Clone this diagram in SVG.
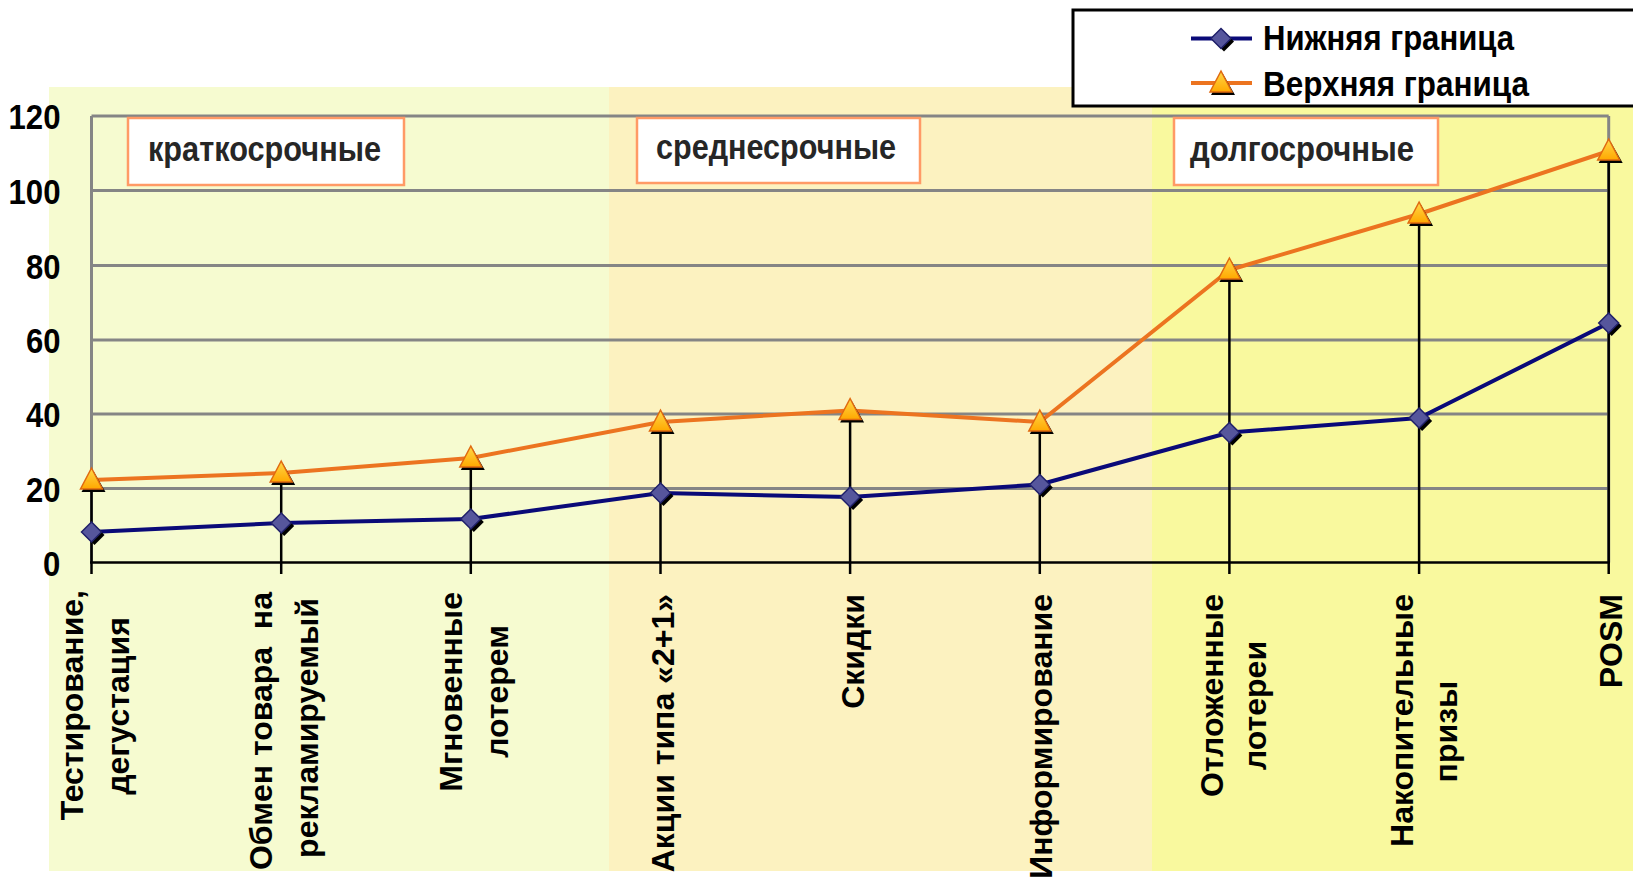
<svg xmlns="http://www.w3.org/2000/svg" width="1633" height="877" viewBox="0 0 1633 877">
<style>
.grid{stroke:#858585;stroke-width:3;fill:none}
.drop{stroke:#000;stroke-width:2.5;fill:none}
.ylab{font-family:"Liberation Sans",Arial,sans-serif;font-weight:bold;font-size:35px;fill:#000}
.cat{font-family:"Liberation Sans",Arial,sans-serif;font-weight:bold;font-size:32px;fill:#000}
.reg{font-family:"Liberation Sans",Arial,sans-serif;font-weight:bold;font-size:35px;fill:#262626}
.regbox{fill:#fff;stroke:#FF9A66;stroke-width:2.5}
.leg{font-family:"Liberation Sans",Arial,sans-serif;font-weight:bold;font-size:35px;fill:#000}
.lo{stroke:#0A0A78;stroke-width:4;fill:none;stroke-linejoin:round}
.hi{stroke:#EC7420;stroke-width:4;fill:none;stroke-linejoin:round}
</style>
<defs>
<linearGradient id="tg" x1="0" y1="0" x2="0" y2="1">
<stop offset="0" stop-color="#FFD84A"/>
<stop offset="1" stop-color="#FFA800"/>
</linearGradient>
<g id="dia">
<path d="M3,-7 L13,3 L3,13 L-7,3 Z" fill="#000"/>
<path d="M0,-10 L10,0 L0,10 L-10,0 Z" fill="#56569C" stroke="#20206A" stroke-width="1.5"/>
</g>
<g id="tri">
<path d="M2,-9 L14,12 L-10,12 Z" fill="#000"/>
<path d="M0,-12 L11,9 L-11,9 Z" fill="url(#tg)" stroke="#E06A10" stroke-width="1.5"/>
</g>
</defs>
<rect width="1633" height="877" fill="#fff"/>
<g id="bands">
<rect x="49" y="87" width="560" height="784" fill="#F6FBD0"/>
<rect x="609" y="87" width="543" height="784" fill="#FCF2C0"/>
<rect x="1152" y="87" width="481" height="784" fill="#F9F99E"/>
</g>
<g id="grid">
<line class="grid" x1="91.5" y1="116" x2="1608.7" y2="116"/>
<line class="grid" x1="91.5" y1="190.5" x2="1608.7" y2="190.5"/>
<line class="grid" x1="91.5" y1="265.5" x2="1608.7" y2="265.5"/>
<line class="grid" x1="91.5" y1="340" x2="1608.7" y2="340"/>
<line class="grid" x1="91.5" y1="414" x2="1608.7" y2="414"/>
<line class="grid" x1="91.5" y1="488.5" x2="1608.7" y2="488.5"/>
<line class="grid" x1="91.5" y1="116" x2="91.5" y2="562.5"/>
<line class="grid" x1="1608.7" y1="116" x2="1608.7" y2="562.5"/>
</g>
<g id="region-short">
<rect class="regbox" x="128" y="118" width="276" height="67"/>
<text class="reg" x="148" y="161" textLength="233" lengthAdjust="spacingAndGlyphs">краткосрочные</text>
</g>
<g id="region-mid">
<rect class="regbox" x="637" y="118" width="283" height="65"/>
<text class="reg" x="656" y="159" textLength="240" lengthAdjust="spacingAndGlyphs">среднесрочные</text>
</g>
<g id="region-long">
<rect class="regbox" x="1174" y="118" width="264" height="67"/>
<text class="reg" x="1190" y="161" textLength="224" lengthAdjust="spacingAndGlyphs">долгосрочные</text>
</g>
<g id="connectors">
<line class="drop" x1="91.5" y1="480" x2="91.5" y2="574"/>
<line class="drop" x1="281.2" y1="473" x2="281.2" y2="574"/>
<line class="drop" x1="470.8" y1="458" x2="470.8" y2="574"/>
<line class="drop" x1="660.5" y1="422" x2="660.5" y2="574"/>
<line class="drop" x1="850.1" y1="410" x2="850.1" y2="574"/>
<line class="drop" x1="1039.8" y1="422" x2="1039.8" y2="574"/>
<line class="drop" x1="1229.4" y1="270" x2="1229.4" y2="574"/>
<line class="drop" x1="1419.1" y1="214" x2="1419.1" y2="574"/>
<line class="drop" x1="1608.7" y1="151" x2="1608.7" y2="574"/>
<line x1="90" y1="562.5" x2="1610" y2="562.5" stroke="#000" stroke-width="2.5"/>
<polyline class="hi" points="91.5,480 281.2,473 470.8,458 660.5,422 850.1,410.5 1039.8,422 1229.4,270 1419.1,214 1608.7,151"/>
<polyline class="lo" points="91.5,532 281.2,523 470.8,519 660.5,493 850.1,497 1039.8,484.5 1229.4,432.5 1419.1,418 1608.7,323"/>
</g>
<g id="markers-lower">
<use href="#dia" x="91.5" y="532"/>
<use href="#dia" x="281.2" y="523"/>
<use href="#dia" x="470.8" y="519"/>
<use href="#dia" x="660.5" y="493"/>
<use href="#dia" x="850.1" y="497"/>
<use href="#dia" x="1039.8" y="484.5"/>
<use href="#dia" x="1229.4" y="432.5"/>
<use href="#dia" x="1419.1" y="418"/>
<use href="#dia" x="1608.7" y="323"/>
</g>
<g id="markers-upper">
<use href="#tri" x="91.5" y="480"/>
<use href="#tri" x="281.2" y="473"/>
<use href="#tri" x="470.8" y="458"/>
<use href="#tri" x="660.5" y="422"/>
<use href="#tri" x="850.1" y="410.5"/>
<use href="#tri" x="1039.8" y="422"/>
<use href="#tri" x="1229.4" y="270"/>
<use href="#tri" x="1419.1" y="214"/>
<use href="#tri" x="1608.7" y="151"/>
</g>
<g id="y-axis-labels">
<text class="ylab" x="8.5" y="129" textLength="52" lengthAdjust="spacingAndGlyphs">120</text>
<text class="ylab" x="8.5" y="203.5" textLength="52" lengthAdjust="spacingAndGlyphs">100</text>
<text class="ylab" x="26" y="278.5" textLength="34.5" lengthAdjust="spacingAndGlyphs">80</text>
<text class="ylab" x="26" y="353" textLength="34.5" lengthAdjust="spacingAndGlyphs">60</text>
<text class="ylab" x="26" y="427" textLength="34.5" lengthAdjust="spacingAndGlyphs">40</text>
<text class="ylab" x="26" y="501.5" textLength="34.5" lengthAdjust="spacingAndGlyphs">20</text>
<text class="ylab" x="43" y="575.5" textLength="17.3" lengthAdjust="spacingAndGlyphs">0</text>
</g>
<g id="cat-1">
<text class="cat" text-anchor="end" transform="translate(82.5,590) rotate(-90)">Тестирование,</text>
<text class="cat" text-anchor="middle" transform="translate(128.5,706) rotate(-90)">дегустация</text>
</g>
<g id="cat-2">
<text class="cat" text-anchor="end" transform="translate(272,592) rotate(-90)">Обмен товара&#160; на</text>
<text class="cat" text-anchor="middle" transform="translate(318,728) rotate(-90)">рекламируемый</text>
</g>
<g id="cat-3">
<text class="cat" text-anchor="end" transform="translate(462,592) rotate(-90)">Мгновенные</text>
<text class="cat" text-anchor="middle" transform="translate(507.5,691.5) rotate(-90)">лотерем</text>
</g>
<g id="cat-4">
<text class="cat" text-anchor="end" transform="translate(674,594) rotate(-90)">Акции типа «2+1»</text>
</g>
<g id="cat-5">
<text class="cat" text-anchor="end" transform="translate(863.5,594) rotate(-90)">Скидки</text>
</g>
<g id="cat-6">
<text class="cat" text-anchor="end" transform="translate(1052,594) rotate(-90)">Информирование</text>
</g>
<g id="cat-7">
<text class="cat" text-anchor="end" transform="translate(1223,594) rotate(-90)">Отложенные</text>
<text class="cat" text-anchor="middle" transform="translate(1266,705.5) rotate(-90)">лотереи</text>
</g>
<g id="cat-8">
<text class="cat" text-anchor="end" transform="translate(1413,594) rotate(-90)">Накопительные</text>
<text class="cat" text-anchor="middle" transform="translate(1457,731.5) rotate(-90)">призы</text>
</g>
<g id="cat-9">
<text class="cat" text-anchor="end" transform="translate(1622,594) rotate(-90)">POSM</text>
</g>
<g id="legend">
<rect x="1073" y="10" width="620" height="96" fill="#fff" stroke="#000" stroke-width="3"/>
<line class="lo" x1="1191" y1="38.5" x2="1252" y2="38.5"/>
<use href="#dia" x="1221" y="38.5"/>
<text class="leg" x="1263" y="50" textLength="251" lengthAdjust="spacingAndGlyphs">Нижняя граница</text>
<line class="hi" x1="1191" y1="83" x2="1252" y2="83"/>
<use href="#tri" x="1221" y="83"/>
<text class="leg" x="1263" y="95.5" textLength="266" lengthAdjust="spacingAndGlyphs">Верхняя граница</text>
</g>
</svg>
